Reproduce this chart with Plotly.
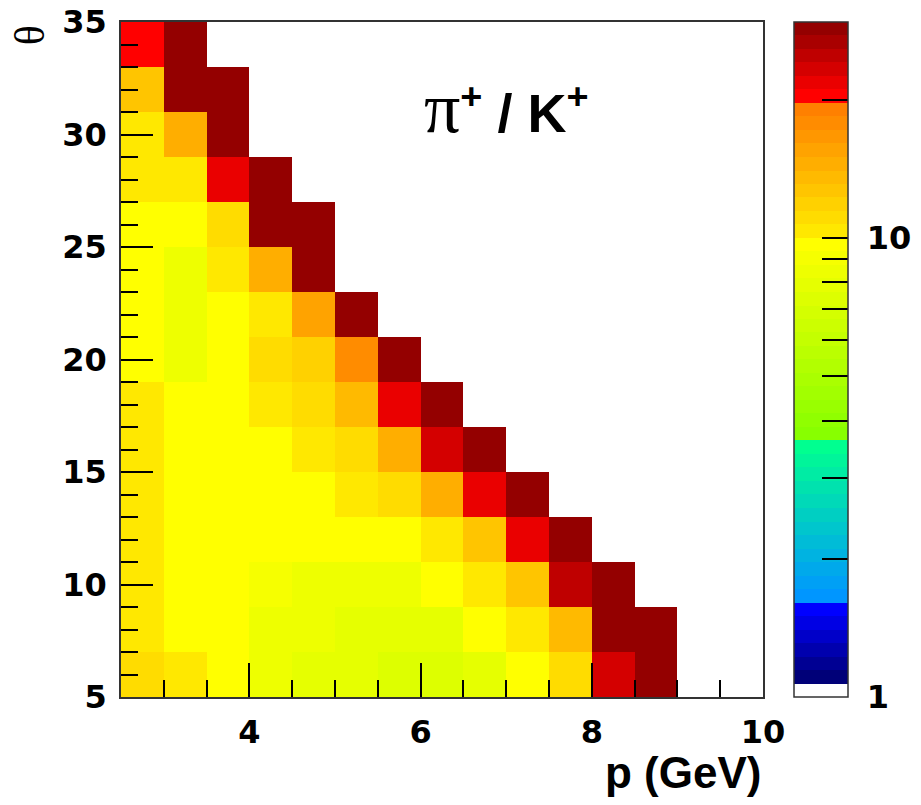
import math
import plotly.graph_objects as go

# ---------------- data ----------------
# bin centres of p (GeV) and theta (deg)
p_centers = [2.75, 3.25, 3.75, 4.25, 4.75, 5.25, 5.75, 6.25, 6.75, 7.25,
             7.75, 8.25, 8.75, 9.25, 9.75]
theta_centers = [6, 8, 10, 12, 14, 16, 18, 20, 22, 24, 26, 28, 30, 32, 34]

# pi+/K+ ratio, one list per theta bin (bottom to top); None = empty bin
ratio_th06 = [11.05, 10.35, 9.7, 8.45, 7.9, 7.9, 7.4, 7.4, 7.9, 9.7, 11.05, 23.3, 28.5, None, None]
ratio_th08 = [10.35, 9.7, 9.7, 8.45, 8.45, 7.9, 7.9, 7.9, 9.7, 10.35, 13.55, 28.5, 28.5, None, None]
ratio_th10 = [10.35, 9.7, 9.7, 9.0, 8.45, 8.45, 8.45, 9.7, 10.35, 12.65, 24.9, 28.5, None, None, None]
ratio_th12 = [10.35, 9.7, 9.7, 9.7, 9.7, 9.7, 9.7, 10.35, 12.65, 21.8, 28.5, None, None, None, None]
ratio_th14 = [10.35, 9.7, 9.7, 9.7, 9.7, 10.35, 11.05, 14.5, 21.8, 28.5, None, None, None, None, None]
ratio_th16 = [10.35, 9.7, 9.7, 9.7, 10.35, 11.05, 14.5, 23.3, 28.5, None, None, None, None, None, None]
ratio_th18 = [10.35, 9.7, 9.7, 10.35, 11.05, 13.55, 21.8, 28.5, None, None, None, None, None, None, None]
ratio_th20 = [9.7, 8.45, 9.7, 11.05, 11.85, 17.8, 28.5, None, None, None, None, None, None, None, None]
ratio_th22 = [9.7, 8.45, 9.7, 10.35, 15.5, 28.5, None, None, None, None, None, None, None, None, None]
ratio_th24 = [9.7, 8.45, 10.35, 14.5, 28.5, None, None, None, None, None, None, None, None, None, None]
ratio_th26 = [9.7, 9.7, 11.05, 28.5, 28.5, None, None, None, None, None, None, None, None, None, None]
ratio_th28 = [10.35, 10.35, 21.8, 28.5, None, None, None, None, None, None, None, None, None, None, None]
ratio_th30 = [10.35, 14.5, 28.5, None, None, None, None, None, None, None, None, None, None, None, None]
ratio_th32 = [12.65, 28.5, 28.5, None, None, None, None, None, None, None, None, None, None, None, None]
ratio_th34 = [20.4, 28.5, None, None, None, None, None, None, None, None, None, None, None, None, None]

ratio_rows = [ratio_th06, ratio_th08, ratio_th10, ratio_th12, ratio_th14, ratio_th16,
              ratio_th18, ratio_th20, ratio_th22, ratio_th24, ratio_th26, ratio_th28,
              ratio_th30, ratio_th32, ratio_th34]

z_min, z_max = 1.0, 29.5
cbar_tick_values = [1, 2, 3, 4, 5, 6, 7, 8, 9, 10, 20]
cbar_tick_labels = ["1", "", "", "", "", "", "", "", "", "10", ""]
x_title = "p (GeV)"
y_title = "θ"

# ---------------- palette (50 contour bands, ROOT-like) ----------------
n_bands = 50
# (first band, last band, colour of first band, colour of last band)
segments = [
    (0, 0, (255, 255, 255), (255, 255, 255)),
    (1, 6, (0, 0, 120), (0, 0, 255)),
    (7, 18, (0, 150, 255), (0, 255, 144)),
    (19, 33, (136, 255, 0), (255, 255, 0)),
    (34, 43, (255, 232, 0), (255, 128, 0)),
    (44, 49, (255, 0, 0), (148, 0, 0)),
]
colorscale = []
for b0, b1, c0, c1 in segments:
    for b in range(b0, b1 + 1):
        t = 0.0 if b1 == b0 else (b - b0) / (b1 - b0)
        rgb = tuple(int(round(c0[i] + (c1[i] - c0[i]) * t)) for i in range(3))
        col = "rgb(%d,%d,%d)" % rgb
        colorscale.append([b / n_bands, col])
        colorscale.append([(b + 1) / n_bands, col])

# ---------------- figure ----------------
z = [[(math.log10(v) if v is not None else None) for v in row] for row in ratio_rows]
lz_min, lz_max = math.log10(z_min), math.log10(z_max)

tick_font = dict(family="DejaVu Sans", size=32, color="black", weight="bold")

cb_x0 = (794 - 121) / 642.0
cb_x1 = (848 - 121) / 642.0

fig = go.Figure(go.Heatmap(
    x=p_centers, y=theta_centers, z=z,
    zmin=lz_min, zmax=lz_max,
    colorscale=colorscale,
    hoverongaps=False,
    colorbar=dict(
        x=cb_x0, xanchor="left", xpad=0, ypad=0,
        y=0.5, yanchor="middle", len=1.0, lenmode="fraction",
        thickness=54, thicknessmode="pixels",
        outlinewidth=1.5, outlinecolor="#333333",
        tickmode="array",
        tickvals=[math.log10(v) for v in cbar_tick_values],
        ticktext=["\u00a0" + t if t else "" for t in cbar_tick_labels],
        ticks="inside", ticklen=26, tickwidth=1.5, tickcolor="black",
        tickfont=tick_font,
    ),
))

fig.update_xaxes(
    range=[2.5, 10], tick0=0, dtick=2,
    ticks="inside", ticklen=34, tickwidth=1.5, tickcolor="black",
    minor=dict(dtick=0.5, ticks="inside", ticklen=17, tickwidth=1.5, tickcolor="black"),
    showline=True, linecolor="#333333", linewidth=1.5, mirror=True,
    showgrid=False, zeroline=False, automargin=False,
    tickfont=tick_font, ticklabelstandoff=6, ticklabeloverflow="allow",
)
fig.update_yaxes(
    range=[5, 35], tick0=0, dtick=5,
    ticks="inside", ticklen=32, tickwidth=1.5, tickcolor="black",
    minor=dict(dtick=1, ticks="inside", ticklen=17, tickwidth=1.5, tickcolor="black"),
    showline=True, linecolor="#333333", linewidth=1.5, mirror=True,
    showgrid=False, zeroline=False, automargin=False,
    tickfont=tick_font, ticklabelstandoff=6, ticklabeloverflow="allow",
)

# full-width line at 10 on the palette
y10 = (math.log10(10) - lz_min) / (lz_max - lz_min)
fig.add_shape(type="line", xref="paper", yref="paper",
              x0=cb_x0, x1=cb_x1, y0=y10, y1=y10,
              line=dict(color="black", width=1.5))

fig.add_annotation(
    text='<span style="font-family:Liberation Serif;font-weight:normal;font-size:72px">π</span><sup>+</sup> / K<sup>+</sup>',
    xref="paper", yref="paper", x=0.60, y=0.872, xanchor="center", yanchor="middle",
    showarrow=False, font=dict(family="Liberation Sans", size=54, color="black", weight="bold"),
)
fig.add_annotation(
    text=x_title, xref="paper", yref="paper", x=1.0, y=-0.112,
    xanchor="right", yanchor="middle", showarrow=False,
    font=dict(family="Liberation Sans", size=44, color="black", weight="bold"),
)
fig.add_annotation(
    text=y_title, xref="paper", yref="paper", x=-0.142, y=0.98,
    xanchor="center", yanchor="middle", textangle=-90, showarrow=False,
    font=dict(family="Liberation Serif", size=42, color="black"),
)

fig.update_layout(
    width=921, height=805, autosize=False,
    margin=dict(l=113, r=166, t=14, b=116, autoexpand=False),
    paper_bgcolor="white", plot_bgcolor="white",
    showlegend=False,
)

fig.write_html("out.html")
